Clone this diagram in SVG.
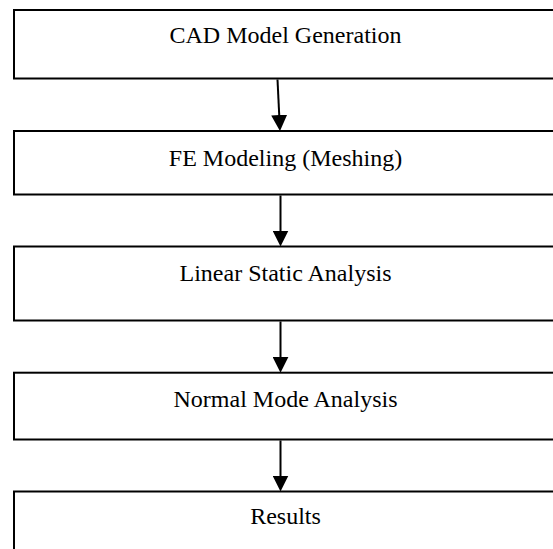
<svg xmlns="http://www.w3.org/2000/svg" width="553" height="549" viewBox="0 0 553 549">
<style>
.box{fill:#fff;stroke:#000;stroke-width:2}
.lbl{font-family:"Liberation Serif","Times New Roman",serif;font-size:24px;fill:#000;text-anchor:middle}
.conn{stroke:#000;stroke-width:2;fill:none}
</style>
<defs>
<marker id="ah" markerUnits="userSpaceOnUse" markerWidth="16" markerHeight="16" refX="6" refY="8" orient="auto" viewBox="0 0 16 16">
<path d="M0,0 L16,8 L0,16 z" fill="#000"/>
</marker>
</defs>
<rect width="553" height="549" fill="#fff"/>
<g id="n1">
<rect class="box" x="14" y="10" width="545" height="68.5"/>
<text class="lbl" x="285.5" y="43">CAD Model Generation</text>
</g>
<g id="n2">
<rect class="box" x="14" y="131" width="545" height="63.5"/>
<text class="lbl" x="285.5" y="165.5">FE Modeling (Meshing)</text>
</g>
<g id="n3">
<rect class="box" x="14" y="246.5" width="545" height="74"/>
<text class="lbl" x="285.5" y="280.5">Linear Static Analysis</text>
</g>
<g id="n4">
<rect class="box" x="14" y="372.7" width="545" height="66.8"/>
<text class="lbl" x="285.5" y="406.5">Normal Mode Analysis</text>
</g>
<g id="n5">
<rect class="box" x="14" y="491.5" width="545" height="70"/>
<text class="lbl" x="285.5" y="523.5">Results</text>
</g>
<g id="connectors">
<line class="conn" x1="277.5" y1="79.5" x2="279.5" y2="121" marker-end="url(#ah)"/>
<line class="conn" x1="280.5" y1="195.5" x2="280.5" y2="236.5" marker-end="url(#ah)"/>
<line class="conn" x1="280.5" y1="321.5" x2="280.5" y2="362.7" marker-end="url(#ah)"/>
<line class="conn" x1="280.5" y1="440.5" x2="280.5" y2="481.5" marker-end="url(#ah)"/>
</g>
</svg>
